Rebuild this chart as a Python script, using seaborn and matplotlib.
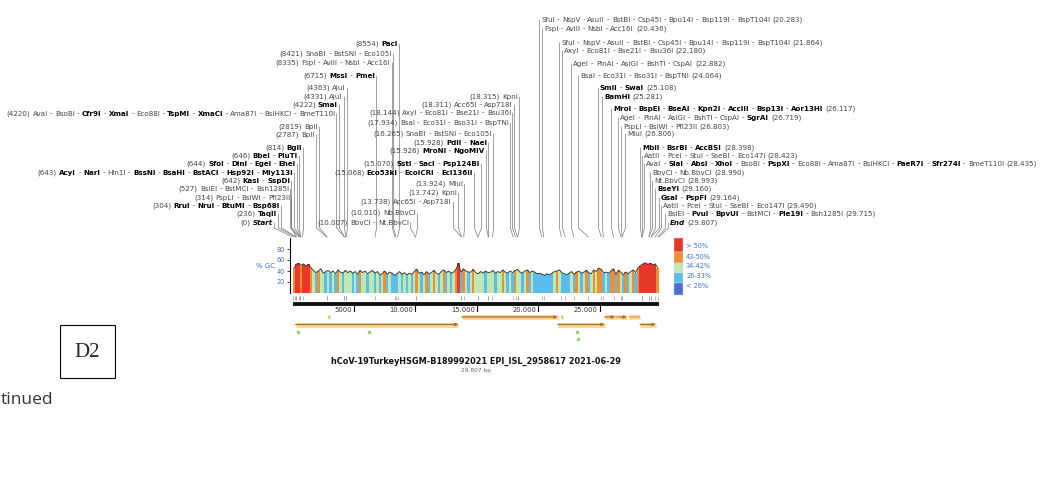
import re

import numpy as np
import matplotlib
matplotlib.use('Agg')
import matplotlib.pyplot as plt
from matplotlib.patches import Rectangle
import seaborn as sns

sns.set_style('white')
plt.rcParams['font.family'] = ['DejaVu Sans']

W, H = 1041, 486
SEQ_LEN = 29807

# GC content, 200 bp windows (curve height)
gc_pct = [
    44, 52, 54, 50, 53, 49, 52, 46,
    41, 37, 40, 44, 36, 39, 41, 37,
    40, 35, 42, 38, 36, 41, 37, 40,
    36, 39, 34, 41, 37, 40, 35, 38,
    41, 36, 39, 33, 35, 40, 34, 38,
    36, 32, 35, 39, 34, 37, 33, 36,
    34, 39, 43, 36, 38, 33, 39, 35,
    37, 41, 36, 34, 39, 42, 37, 40,
    36, 38, 43, 54, 37, 44, 40, 38,
    38, 43, 37, 35, 39, 36, 40, 37,
    38, 41, 36, 39, 37, 42, 38, 36,
    40, 37, 41, 43, 38, 36, 40, 42,
    37, 40, 38, 35, 36, 34, 32, 35,
    33, 36, 39, 40, 42, 37, 35, 33,
    36, 39, 34, 38, 40, 36, 38, 41,
    37, 35, 42, 39, 45, 43, 37, 38,
    36, 40, 44, 34, 41, 38, 33, 38,
    35, 39, 42, 37, 46, 50, 53, 55,
    52, 54, 51, 53, 46]
# local GC of the same windows (bar colour class)
gc_local = [
    47, 53, 56, 49, 55, 51, 54, 45,
    36, 31, 44, 37, 38, 31, 36, 30,
    37, 31, 45, 36, 30, 38, 37, 36,
    30, 37, 31, 44, 38, 36, 31, 37,
    38, 31, 36, 29, 37, 44, 31, 37,
    30, 28, 31, 38, 30, 36, 29, 36,
    31, 38, 46, 37, 31, 36, 44, 31,
    36, 45, 38, 30, 38, 47, 31, 37,
    31, 37, 46, 56, 30, 45, 38, 31,
    37, 44, 38, 36, 37, 38, 31, 37,
    38, 37, 30, 36, 38, 44, 36, 31,
    37, 31, 45, 38, 36, 30, 37, 44,
    31, 37, 30, 31, 29, 30, 28, 31,
    29, 31, 36, 44, 38, 31, 30, 28,
    31, 37, 30, 44, 36, 31, 37, 45,
    31, 36, 44, 37, 46, 45, 31, 38,
    30, 44, 46, 31, 45, 37, 29, 44,
    31, 38, 45, 31, 47, 52, 54, 56,
    53, 55, 52, 54, 45]
WIN = 200

gc_bins = ['> 50%', '43-50%', '34-42%', '26-33%', '< 26%']
gc_colors = ['#e8382a', '#f28e32', '#bfe7b0', '#5bbdee', '#4a6ed6']

# restriction sites: left fan, middle fan, right fan
left_sites = [0, 236, 304, 314, 527, 642, 643, 644, 646, 814, 2787, 2819,
              4220, 4222, 4331, 4363, 6715, 8335, 8421, 8554]
left_labels = [
    "(0) ~Start~",
    "(236) *TaqII*",
    "(304) *RruI* - *NruI* - *BtuMI* - *Bsp68I*",
    "(314) PspLI - BsiWI - PfI23II",
    "(527) BsiEI - BstMCI - Bsh1285I",
    "(642) *KasI* - *SspDI*",
    "(643) *AcyI* - *NarI* - Hin1I - *BssNI* - *BsaHI* - *BstACI* - *Hsp92I* - *Mly113I*",
    "(644) *SfoI* - *DinI* - *EgeI* - *EheI*",
    "(646) *BbeI* - *PluTI*",
    "(814) *BglI*",
    "(2787) BplI",
    "(2819) BplI",
    "(4220) AvaI - BsoBI - *Cfr9I* - *XmaI* - Eco88I - *TspMI* - *XmaCI* - Ama87I - BsiHKCI - BmeT110I",
    "(4222) *SmaI*",
    "(4331) AjuI",
    "(4363) AjuI",
    "(6715) *MssI* - *PmeI*",
    "(8335) FspI - AviII - NsbI - Acc16I",
    "(8421) SnaBI - BstSNI - Eco105I",
    "(8554) *PacI*",
]

mid_sites = [10007, 10010, 13738, 13742, 13924, 15068, 15070, 15926, 15928,
             16265, 17934, 18144, 18311, 18315]
mid_labels = [
    "(10.007) BbvCI - Nt.BbvCI",
    "(10.010) Nb.BbvCI",
    "(13.738) Acc65I - Asp718I",
    "(13.742) KpnI",
    "(13.924) MluI",
    "(15.068) *Eco53kI* - *EcoICRI* - *Ecl136II*",
    "(15.070) *SstI* - *SacI* - *Psp124BI*",
    "(15.926) *MroNI* - *NgoMIV*",
    "(15.928) *PdiI* - *NaeI*",
    "(16.265) SnaBI - BstSNI - Eco105I",
    "(17.934) BsaI - Eco31I - Bso31I - BspTNI",
    "(18.144) AxyI - Eco81I - Bse21I - Bsu36I",
    "(18.311) Acc65I - Asp718I",
    "(18.315) KpnI",
]

right_sites = [20283, 20436, 21864, 22180, 22882, 24064, 25108, 25281, 26117,
               26719, 26803, 26806, 28398, 28423, 28435, 28990, 28993, 29160,
               29164, 29490, 29715, 29807]
right_labels = [
    "SfuI - NspV - AsuII - BstBI - Csp45I - Bpu14I - Bsp119I - BspT104I (20.283)",
    "FspI - AviII - NsbI - Acc16I (20.436)",
    "SfuI - NspV - AsuII - BstBI - Csp45I - Bpu14I - Bsp119I - BspT104I (21.864)",
    "AxyI - Eco81I - Bse21I - Bsu36I (22.180)",
    "AgeI - PinAI - AsiGI - BshTI - CspAI (22.882)",
    "BsaI - Eco31I - Bso31I - BspTNI (24.064)",
    "*SmiI* - *SwaI* (25.108)",
    "*BamHI* (25.281)",
    "*MroI* - *BspEI* - *BseAI* - *Kpn2I* - *AccIII* - *Bsp13I* - *Aor13HI* (26.117)",
    "AgeI - PinAI - AsiGI - BshTI - CspAI - *SgrAI* (26.719)",
    "PspLI - BsiWI - PfI23II (26.803)",
    "MluI (26.806)",
    "*MbiI* - *BsrBI* - *AccBSI* (28.398)",
    "AatII - PceI - StuI - SseBI - Eco147I (28.423)",
    "AvaI - *SlaI* - *AbsI* - *XhoI* - BsoBI - *PspXI* - Eco88I - Ama87I - BsiHKCI - *PaeR7I* - *Sfr274I* - BmeT110I (28.435)",
    "BbvCI - Nb.BbvCI (28.990)",
    "Nt.BbvCI (28.993)",
    "*BseYI* (29.160)",
    "*GsaI* - *PspFI* (29.164)",
    "AatII - PceI - StuI - SseBI - Eco147I (29.490)",
    "BsiEI - *PvuI* - *BpvUI* - BstMCI - *Ple19I* - Bsh1285I (29.715)",
    "~End~ (29.807)",
]

# features (bp)
feat_start = [2900, 13768, 21850, 25393, 26245, 26523, 27394, 27756, 27894, 266, 21563, 28274]
feat_end = [3050, 21555, 22000, 26220, 26472, 27191, 27759, 27887, 28259, 13483, 25384, 29533]
feat_arrow = [False, True, False, True, False, True, False, False, False, True, True, True]
green_sites = [447, 6220, 23130, 23250]

ruler_ticks = [5000, 10000, 15000, 20000, 25000]
ruler_labels = ['5000', '10.000', '15.000', '20.000', '25.000']

title = 'hCoV-19TurkeyHSGM-B189992021 EPI_ISL_2958617 2021-06-29'
subtitle = '29.807 bp'

# ---- layout (pixels) ----
left_x = [273, 277, 280, 290, 289, 290, 293, 296, 298, 302, 315, 318,
          335, 338, 343, 346, 375, 391, 392, 398]
left_y = [222, 213, 205, 197, 188, 180, 172, 163, 155, 147, 134, 126,
          113, 104, 96, 87, 75, 62, 53, 43]
mid_x = [409, 416, 452, 457, 463, 473, 480, 485, 487, 492, 509, 511, 513, 518]
mid_y = [222, 212, 201, 192, 183, 172, 163, 150, 142, 133, 122, 112, 104, 96]
right_x = [541, 544, 561, 564, 573, 580, 600, 604, 613, 620, 623, 627,
           642, 644, 646, 652, 654, 657, 661, 663, 667, 670]
right_y = [19, 28, 42, 50, 63, 75, 87, 96, 108, 117, 126, 133,
           147, 155, 163, 172, 180, 188, 197, 205, 213, 222]
feat_y = [317, 317, 317, 317, 317, 317, 317, 317, 317, 324.5, 324.5, 324.5]
green_y = [331.5, 331.5, 331.5, 338.5]

FS = 5.15
GX0, GW = 292.5, 366.5

fig = plt.figure(figsize=(W / 100, H / 100), dpi=100)
ov = fig.add_axes([0, 0, 1, 1])
ov.set_xlim(0, W)
ov.set_ylim(H, 0)
ov.axis('off')

ga = fig.add_axes([GX0 / W, 1 - 293 / H, GW / W, 55 / H])
ga.set_xlim(0, SEQ_LEN)
ga.set_ylim(0, 100)

fa = fig.add_axes([GX0 / W, 1 - 348 / H, GW / W, 54 / H])
fa.set_xlim(0, SEQ_LEN)
fa.set_ylim(348, 294)
fa.axis('off')


def gc_color(v):
    if v > 50:
        return gc_colors[0]
    if v >= 43:
        return gc_colors[1]
    if v >= 34:
        return gc_colors[2]
    if v >= 26:
        return gc_colors[3]
    return gc_colors[4]


# GC plot
centers = np.arange(len(gc_pct)) * WIN + WIN / 2
ga.bar(centers, gc_pct, width=WIN, color=[gc_color(v) for v in gc_local], linewidth=0)
sns.lineplot(x=centers, y=gc_pct, ax=ga, color='#333333', lw=0.65)
for s in ['top', 'right', 'bottom']:
    ga.spines[s].set_visible(False)
ga.spines['left'].set_position(('outward', 1.5))
ga.spines['left'].set_linewidth(0.8)
ga.spines['left'].set_color('black')
ga.set_yticks([20, 40, 60, 80])
ga.tick_params(axis='y', labelsize=4.7, labelcolor='#3d6fd8', length=2.5, width=0.6,
               pad=1.5, left=True)
ga.set_xticks([])
ov.text(266, 266, '% GC', fontsize=5, color='#3d6fd8', ha='center', va='center')

# GC legend
leg_top = [238, 252, 263, 273, 283]
leg_bot = [252, 263, 273, 283, 295]
leg_ty = [246, 257, 266, 276, 286]
for c, t0, t1, lab, ty in zip(gc_colors, leg_top, leg_bot, gc_bins, leg_ty):
    ov.add_patch(Rectangle((674, t0), 8.5, t1 - t0, facecolor=c, edgecolor='#dddddd', lw=0.3))
    ov.text(686, ty, lab, fontsize=4.7, color='#3d6fd8', va='center', ha='left')

# ruler and features
all_sites = sorted(set(left_sites + mid_sites + right_sites))
fa.vlines(all_sites, 295.5, 300, color='#9a9a9a', lw=0.5)
fa.plot([0, SEQ_LEN], [304, 304], color='#111111', lw=2.8, solid_capstyle='butt')
for t, lab in zip(ruler_ticks, ruler_labels):
    fa.plot([t, t], [305, 310.5], color='black', lw=0.8)
    fa.annotate(lab, xy=(t, 309.5), xytext=(-1.5, 0), textcoords='offset points',
                ha='right', va='center', fontsize=4.9, color='#333333')

for s, e, arr, y in zip(feat_start, feat_end, feat_arrow, feat_y):
    fa.plot([s, e], [y, y], color='#fcd8a0', lw=3.6, solid_capstyle='butt')
    if arr:
        fa.annotate('', xy=(e, y), xytext=(s, y),
                    arrowprops=dict(arrowstyle='-|>', color='#b06f18', lw=0.9,
                                    mutation_scale=4, shrinkA=0, shrinkB=0))
    else:
        fa.plot([s, e], [y, y], color='#f3b25a', lw=1.4, solid_capstyle='butt')
fa.plot(green_sites, green_y, marker='s', ms=1.7, color='#8fd46a', ls='none')

# restriction site labels
renderer = fig.canvas.get_renderer()


def tokens(markup):
    out = []
    for p in re.split(r'(\*[^*]+\*|~[^~]+~)', markup):
        if not p:
            continue
        if p[0] == '*':
            w, st, col = 'bold', 'normal', 'black'
            p = p[1:-1]
        elif p[0] == '~':
            w, st, col = 'bold', 'italic', 'black'
            p = p[1:-1]
        else:
            w, st, col = 'normal', 'normal', '#454545'
        for word in p.split():
            out.append((word, w, st, col))
    return out


def space_w():
    a = ov.text(0, 0, 'a a', fontsize=FS)
    b = ov.text(0, 0, 'aa', fontsize=FS)
    d = a.get_window_extent(renderer).width - b.get_window_extent(renderer).width
    a.remove()
    b.remove()
    return d


SP = space_w()


def draw_label(x, y, markup, align):
    toks = tokens(markup)
    arts = []
    widths = []
    for word, w, st, col in toks:
        t = ov.text(0, y + 2.6, word, fontsize=FS, fontweight=w, fontstyle=st,
                    color=col, ha='left', va='baseline', zorder=3)
        arts.append(t)
        widths.append(t.get_window_extent(renderer).width)
    total = sum(widths) + SP * (len(widths) - 1)
    cur = x - total if align == 'right' else x
    for t, wd in zip(arts, widths):
        t.set_x(cur)
        cur += wd + SP


def bp_px(bp):
    disp = ga.transData.transform((bp, 0))
    return ov.transData.inverted().transform(disp)[0]


def leader(x0, y0, site):
    sx = bp_px(site)
    yb = 228
    if y0 + 4 >= yb:
        ov.plot([x0, sx], [y0, 237], color='#7a7a7a', lw=0.5, zorder=1)
    else:
        ov.plot([x0, x0, sx], [y0, yb, 237], color='#7a7a7a', lw=0.5, zorder=1)


for site, lab, x, y in zip(left_sites + mid_sites, left_labels + mid_labels,
                           left_x + mid_x, left_y + mid_y):
    draw_label(x, y, lab, 'right')
    leader(x + 1.5, y + 1, site)

for site, lab, x, y in zip(right_sites, right_labels, right_x, right_y):
    draw_label(x, y, lab, 'left')
    leader(x - 1.5, y + 1, site)

# titles and page bits
ov.text(476, 361, title, fontsize=5.9, fontweight='bold', ha='center', va='center', color='#111111')
ov.text(476, 370, subtitle, fontsize=4.2, ha='center', va='center', color='#666666')

ov.add_patch(Rectangle((60, 325), 55, 53, facecolor='none', edgecolor='black', lw=0.8))
ov.text(87.5, 352, 'D2', fontsize=15, family=['Liberation Serif', 'DejaVu Serif'],
        ha='center', va='center')
ov.text(1, 400, 'tinued', fontsize=12.5, family=['Open Sans', 'DejaVu Sans'],
        ha='left', va='center', color='#333333')

fig.savefig('out.png', dpi=100)
